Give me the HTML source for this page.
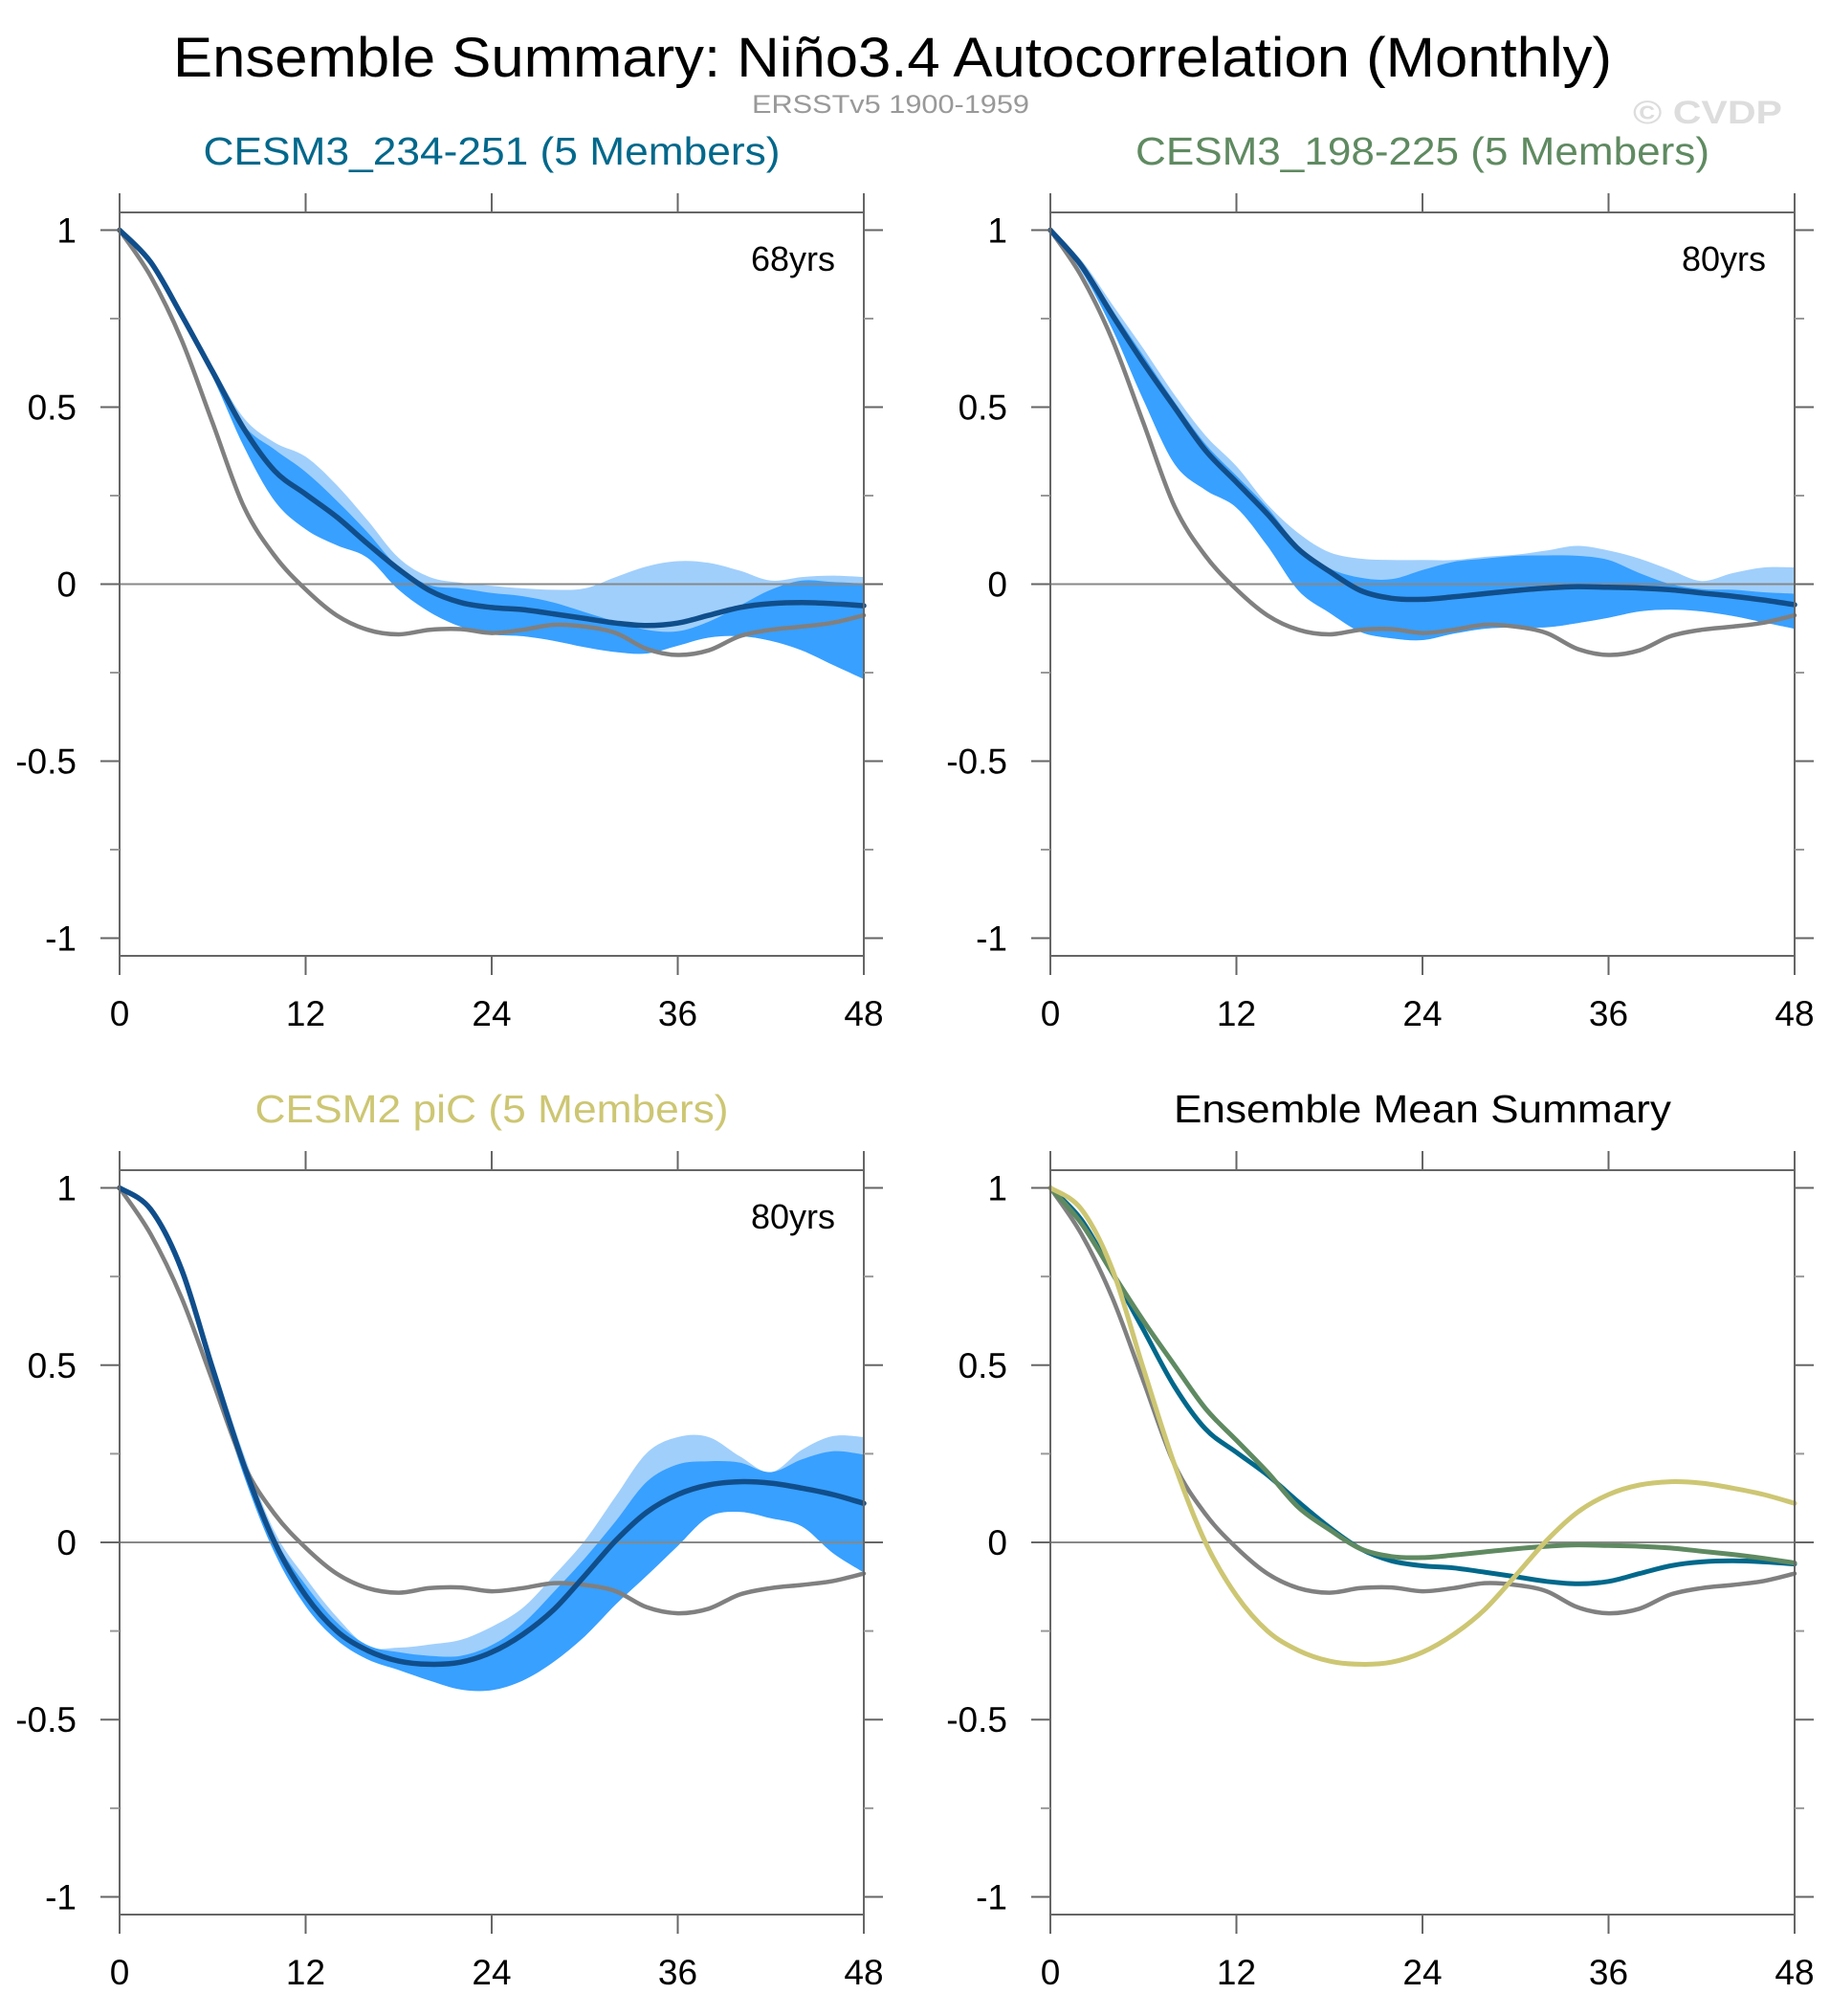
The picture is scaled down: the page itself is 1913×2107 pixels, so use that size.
<!DOCTYPE html>
<html><head><meta charset="utf-8"><style>
html,body{margin:0;padding:0;background:#fff;}
svg{display:block;font-family:"Liberation Sans",Arial,sans-serif;}
</style></head><body>
<svg id="fig" width="1913" height="2107" viewBox="0 0 1913 2107" xmlns="http://www.w3.org/2000/svg">
<rect width="1913" height="2107" fill="#fff"/>
<text x="181" y="80" font-size="58" textLength="1504" lengthAdjust="spacingAndGlyphs" fill="#000">Ensemble Summary: Niño3.4 Autocorrelation (Monthly)</text>
<text x="786" y="118" font-size="27" textLength="290" lengthAdjust="spacingAndGlyphs" fill="#999">ERSSTv5 1900-1959</text>
<text x="1707" y="129" font-size="34" font-weight="bold" textLength="156" lengthAdjust="spacingAndGlyphs" fill="#ddd">© CVDP</text>
<g id="panels"></g>
</svg>
<script>
const lags = [0,2,4,6,8,10,12,14,16,18,20,22,24,26,28,30,32,34,36,38,40,42,44,46,48];
const xTicks = [0,12,24,36,48];
const yTicks = [-1,-0.5,0,0.5,1];
const yTickLabels = ["-1","-0.5","0","0.5","1"];
const yMinor = [-0.75,-0.25,0.25,0.75];
const obs = [1,0.87,0.69,0.455,0.22,0.08,-0.015,-0.088,-0.129,-0.142,-0.129,-0.127,-0.138,-0.129,-0.115,-0.12,-0.138,-0.183,-0.2,-0.187,-0.147,-0.129,-0.12,-0.109,-0.088];

const p1Mean = [1,0.91,0.76,0.60,0.44,0.32,0.254,0.19,0.114,0.042,-0.018,-0.052,-0.066,-0.072,-0.084,-0.097,-0.11,-0.117,-0.11,-0.088,-0.066,-0.055,-0.052,-0.055,-0.061];
const p1LightUp = [1,0.915,0.77,0.615,0.47,0.40,0.36,0.28,0.18,0.074,0.02,0.004,-0.005,-0.012,-0.016,-0.012,0.02,0.05,0.065,0.06,0.038,0.01,0.02,0.024,0.02];
const p1DarkUp = [1,0.912,0.765,0.61,0.45,0.38,0.317,0.236,0.146,0.047,-0.003,-0.012,-0.025,-0.034,-0.052,-0.079,-0.106,-0.129,-0.133,-0.106,-0.061,-0.016,0.01,0.006,0.002];
const p1Low = [1,0.905,0.75,0.585,0.39,0.235,0.155,0.11,0.074,-0.016,-0.079,-0.12,-0.142,-0.147,-0.16,-0.178,-0.192,-0.196,-0.174,-0.151,-0.147,-0.16,-0.187,-0.228,-0.268];

const p2Mean = [1,0.9,0.76,0.625,0.50,0.378,0.288,0.198,0.099,0.036,-0.018,-0.04,-0.043,-0.036,-0.027,-0.018,-0.011,-0.007,-0.009,-0.011,-0.016,-0.025,-0.034,-0.045,-0.058];
const p2LightUp = [1,0.915,0.79,0.665,0.535,0.42,0.333,0.225,0.144,0.09,0.072,0.068,0.068,0.068,0.077,0.083,0.095,0.108,0.095,0.072,0.04,0.009,0.031,0.047,0.047];
const p2DarkUp = [1,0.908,0.775,0.645,0.515,0.396,0.306,0.216,0.108,0.045,0.018,0.014,0.04,0.063,0.072,0.08,0.081,0.08,0.068,0.031,0,-0.014,-0.016,-0.023,-0.027];
const p2Low = [1,0.885,0.72,0.52,0.34,0.266,0.216,0.108,-0.018,-0.081,-0.135,-0.153,-0.158,-0.14,-0.126,-0.122,-0.122,-0.11,-0.095,-0.077,-0.072,-0.077,-0.09,-0.108,-0.126];

const p3Mean = [1,0.94,0.77,0.49,0.22,0.0,-0.15,-0.25,-0.305,-0.335,-0.344,-0.338,-0.31,-0.26,-0.19,-0.094,0.005,0.085,0.135,0.162,0.171,0.167,0.153,0.135,0.11];
const p3LightUp = [1,0.95,0.79,0.515,0.25,0.03,-0.1,-0.21,-0.293,-0.297,-0.288,-0.275,-0.238,-0.185,-0.094,0.005,0.13,0.252,0.297,0.297,0.243,0.198,0.261,0.3,0.297];
const p3DarkUp = [1,0.945,0.78,0.50,0.235,0.013,-0.12,-0.225,-0.29,-0.31,-0.32,-0.32,-0.29,-0.23,-0.14,-0.045,0.06,0.171,0.22,0.229,0.225,0.198,0.234,0.257,0.248];
const p3Low = [1,0.93,0.75,0.465,0.19,-0.03,-0.18,-0.275,-0.33,-0.36,-0.39,-0.415,-0.417,-0.39,-0.337,-0.265,-0.175,-0.094,-0.01,0.072,0.086,0.068,0.045,-0.03,-0.085];

const NS = "http://www.w3.org/2000/svg";
const root = document.getElementById('panels');
function mk(tag, attrs, parent){const e=document.createElementNS(NS,tag);for(const k in attrs)e.setAttribute(k,attrs[k]);(parent||root).appendChild(e);return e;}

function smooth(pts){
  let d = "M"+pts[0][0].toFixed(1)+","+pts[0][1].toFixed(1);
  for(let i=0;i<pts.length-1;i++){
    const p0=pts[Math.max(0,i-1)],p1=pts[i],p2=pts[i+1],p3=pts[Math.min(pts.length-1,i+2)];
    const c1=[p1[0]+(p2[0]-p0[0])/6,p1[1]+(p2[1]-p0[1])/6];
    const c2=[p2[0]-(p3[0]-p1[0])/6,p2[1]-(p3[1]-p1[1])/6];
    d+=" C"+c1[0].toFixed(1)+","+c1[1].toFixed(1)+" "+c2[0].toFixed(1)+","+c2[1].toFixed(1)+" "+p2[0].toFixed(1)+","+p2[1].toFixed(1);
  }
  return d;
}

function panel(cfg){
  const g = mk('g',{});
  
  
  const {x0,x1,yT,yB} = cfg;
  const sx = v => x0 + v/48*(x1-x0);
  const sy = v => yT + (1.05-v)/2.1*(yB-yT);
  const pts = arr => arr.map((v,i)=>[sx(lags[i]),sy(v)]);
  const t = mk('text',{x:(x0+x1)/2,y:cfg.titleY,'font-size':41,'text-anchor':'middle',fill:cfg.titleColor,textLength:cfg.titleW,lengthAdjust:'spacingAndGlyphs'},g);
  t.textContent = cfg.title;
  
  
  (cfg.bands||[]).forEach(b=>{
    const up = pts(b.up), lo = pts(b.lo).reverse();
    const d = smooth(up) + " L" + smooth(lo).slice(1) + " Z";
    const p = mk('path',{d:d,fill:b.color,stroke:'none'},g);
    
    
  });
  const z = mk('line',{x1:x0,x2:x1,y1:sy(0),y2:sy(0),stroke:'#888','stroke-width':2},g);
  
  
  (cfg.lines||[]).forEach(l=>{
    const p = mk('path',{d:smooth(pts(l.data)),fill:'none',stroke:l.color,'stroke-width':l.w,'stroke-linejoin':'round','stroke-linecap':'round'},g);
    
    
  });
  const f = mk('rect',{x:x0,y:yT,width:x1-x0,height:yB-yT,fill:'none',stroke:'#666','stroke-width':2},g);
  
  
  xTicks.forEach(v=>{
    mk('line',{x1:sx(v),x2:sx(v),y1:yT-20,y2:yT,stroke:'#666','stroke-width':2},g);
    mk('line',{x1:sx(v),x2:sx(v),y1:yB,y2:yB+20,stroke:'#666','stroke-width':2},g);
    const tl = mk('text',{x:sx(v),y:yB+73,'font-size':37,'text-anchor':'middle',fill:'#000'},g);
    tl.textContent = String(v);
    
    
  });
  yTicks.forEach((v,i)=>{
    mk('line',{x1:x0-20,x2:x0,y1:sy(v),y2:sy(v),stroke:'#666','stroke-width':2},g);
    mk('line',{x1:x1,x2:x1+20,y1:sy(v),y2:sy(v),stroke:'#666','stroke-width':2},g);
    const tl = mk('text',{x:x0-45,y:sy(v)+13,'font-size':37,'text-anchor':'end',fill:'#000'},g);
    tl.textContent = yTickLabels[i];
    
    
  });
  yMinor.forEach(v=>{
    mk('line',{x1:x0-10,x2:x0,y1:sy(v),y2:sy(v),stroke:'#999','stroke-width':2},g);
    mk('line',{x1:x1,x2:x1+10,y1:sy(v),y2:sy(v),stroke:'#999','stroke-width':2},g);
  });
  if(cfg.yrs){
    const y = mk('text',{x:x1-30,y:yT+61,'font-size':36,'text-anchor':'end',fill:'#000'},g);
    y.textContent = cfg.yrs;
    
    
  }
}
const LIGHT="#a0cffc", DARK="#38a0ff", MEAN="#104e8b", OBS="#808080";
panel({name:'panel-cesm3-234-251',x0:125,x1:903,yT:222,yB:999,titleY:172,titleW:603,title:'CESM3_234-251 (5 Members)',titleColor:'#00688b',yrs:'68yrs',
  bands:[{name:'spread-band-outer',up:p1LightUp,lo:p1Low,color:LIGHT},{name:'spread-band-inner',up:p1DarkUp,lo:p1Low,color:DARK}],
  lines:[{name:'obs-line',data:obs,color:OBS,w:4.5},{name:'ensemble-mean-line',data:p1Mean,color:MEAN,w:5.5}]});
panel({name:'panel-cesm3-198-225',x0:1098,x1:1876,yT:222,yB:999,titleY:172,titleW:600,title:'CESM3_198-225 (5 Members)',titleColor:'#5f8a61',yrs:'80yrs',
  bands:[{name:'spread-band-outer',up:p2LightUp,lo:p2Low,color:LIGHT},{name:'spread-band-inner',up:p2DarkUp,lo:p2Low,color:DARK}],
  lines:[{name:'obs-line',data:obs,color:OBS,w:4.5},{name:'ensemble-mean-line',data:p2Mean,color:MEAN,w:5.5}]});
panel({name:'panel-cesm2-pic',x0:125,x1:903,yT:1223,yB:2001,titleY:1173,titleW:495,title:'CESM2 piC (5 Members)',titleColor:'#cdc673',yrs:'80yrs',
  bands:[{name:'spread-band-outer',up:p3LightUp,lo:p3Low,color:LIGHT},{name:'spread-band-inner',up:p3DarkUp,lo:p3Low,color:DARK}],
  lines:[{name:'obs-line',data:obs,color:OBS,w:4.5},{name:'ensemble-mean-line',data:p3Mean,color:MEAN,w:5.5}]});
panel({name:'panel-ensemble-mean-summary',x0:1098,x1:1876,yT:1223,yB:2001,titleY:1173,titleW:520,title:'Ensemble Mean Summary',titleColor:'#000',
  lines:[{name:'obs-line',data:obs,color:OBS,w:4.5},{name:'cesm3-234-251-mean-line',data:p1Mean,color:'#00688b',w:5},
         {name:'cesm3-198-225-mean-line',data:p2Mean,color:'#5f8a61',w:5},{name:'cesm2-pic-mean-line',data:p3Mean,color:'#cdc673',w:5}]});
</script>
</body></html>
